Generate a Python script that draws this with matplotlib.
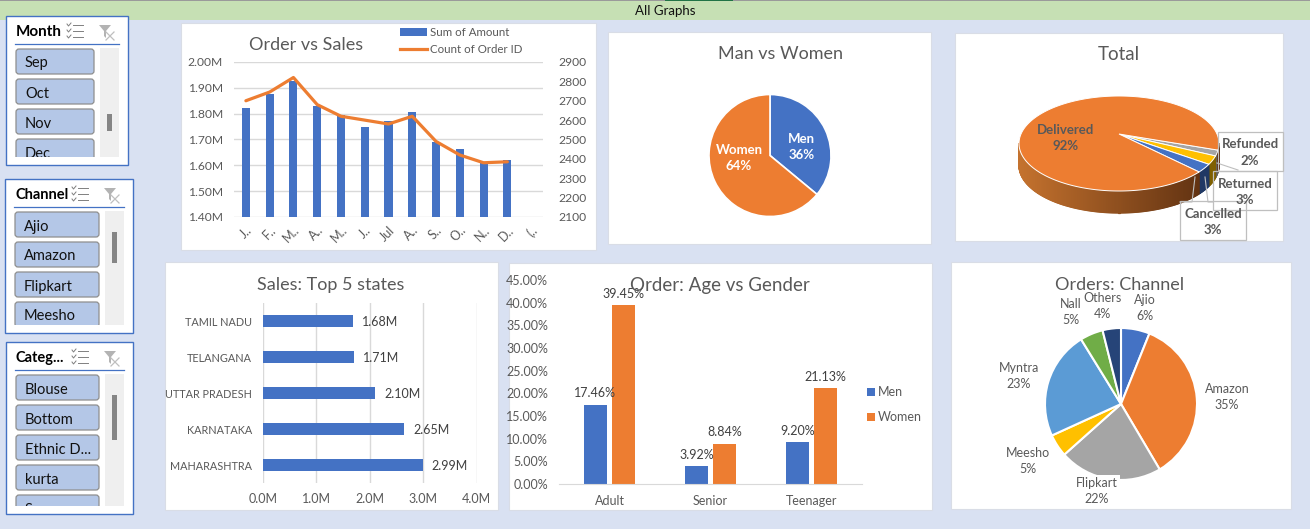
# excel style dashboard, all panels placed in pixel coordinates
import numpy as np
import matplotlib
matplotlib.use("Agg")
import matplotlib.pyplot as plt
from matplotlib.patches import Rectangle, FancyBboxPatch, Patch
from matplotlib.lines import Line2D
from matplotlib.colors import to_rgb

plt.rcParams['font.family'] = ['Lato', 'DejaVu Sans']

# data
months = ['J..', 'F..', 'M..', 'A..', 'M..', 'J..', 'Jul', 'A..', 'S..', 'O..', 'N..', 'D..', '(..']
amount = [1.82, 1.875, 1.925, 1.83, 1.795, 1.75, 1.77, 1.805, 1.69, 1.665, 1.61, 1.62, np.nan]
orders = [2700, 2745, 2820, 2680, 2620, 2600, 2580, 2620, 2490, 2420, 2380, 2385, np.nan]
amount_ticks = [1.4, 1.5, 1.6, 1.7, 1.8, 1.9, 2.0]
order_ticks = [2100, 2200, 2300, 2400, 2500, 2600, 2700, 2800, 2900]

gender_labels = ['Men', 'Women']
gender_share = [36, 64]

status_labels = ['Refunded', 'Returned', 'Cancelled', 'Delivered']
status_share = [2, 3, 3, 92]

states = ['MAHARASHTRA', 'KARNATAKA', 'UTTAR PRADESH', 'TELANGANA', 'TAMIL NADU']
state_sales = [2.99, 2.65, 2.10, 1.71, 1.68]

ages = ['Adult', 'Senior', 'Teenager']
age_men = [17.46, 3.92, 9.20]
age_women = [39.45, 8.84, 21.13]

channels = ['Ajio', 'Amazon', 'Flipkart', 'Meesho', 'Myntra', 'Nall', 'Others']
channel_share = [6.1, 35.4, 21.9, 4.8, 23.0, 4.9, 3.9]

month_items = ['Sep', 'Oct', 'Nov', 'Dec']
channel_items = ['Ajio', 'Amazon', 'Flipkart', 'Meesho']
category_items = ['Blouse', 'Bottom', 'Ethnic D...', 'kurta', 'Saree']

BLUE = '#4472C4'
ORANGE = '#ED7D31'
GRAY = '#A5A5A5'
YELLOW = '#FFC000'
TXT = '#595959'
GRID = '#D9D9D9'
W, H = 1310, 529

fig = plt.figure(figsize=(W / 100, H / 100), dpi=100, facecolor='#D9E1F2')


def px_axes(x0, y0, x1, y1, **kw):
    return fig.add_axes([x0 / W, 1 - y1 / H, (x1 - x0) / W, (y1 - y0) / H], **kw)


bg = px_axes(0, 0, W, H)
bg.set_xlim(0, W)
bg.set_ylim(H, 0)
bg.axis('off')

# top band
bg.add_patch(Rectangle((0, 0), W, 20, fc='#C6E0B4', ec='none'))
bg.add_patch(Rectangle((0, 0), W, 1, fc='#9A9A9A', ec='none'))
bg.add_patch(Rectangle((665, 0), 68, 1, fc='#217346', ec='none'))

# white chart panels
for x0, y0, x1, y1 in [(181, 23, 596, 250), (608, 32, 931, 244), (955, 33, 1283, 241),
                       (165, 262, 498, 510), (509, 263, 932, 510), (951, 262, 1291, 509)]:
    bg.add_patch(Rectangle((x0, y0), x1 - x0, y1 - y0, fc='white', ec='#D9DDE6', lw=0.8))


def slicer(box, title, items, thumb, title_w, bold_size=11):
    x0, y0, x1, y1 = box
    bg.add_patch(Rectangle((x0, y0), x1 - x0, y1 - y0, fc='white', ec=BLUE, lw=1.0))
    lx0, lx1 = x0 + 9, x1 - 9
    ly = y0 + 28
    bg.plot([lx0, lx1], [ly, ly], color=BLUE, lw=0.9)
    bg.text(lx0 + 1, y0 + 16, title, fontsize=bold_size, fontweight='bold', color='black', va='center')
    # checklist icon
    ix = lx0 + title_w
    for k in range(3):
        yy = y0 + 9 + k * 6
        bg.plot([ix + 6, ix + 16], [yy, yy], color='#808080', lw=0.7)
        bg.plot([ix, ix + 1.5, ix + 4], [yy - 1, yy + 1, yy - 2], color='#808080', lw=0.7)
    # clear filter icon
    fx = lx1 - 20
    bg.fill([fx, fx + 12, fx + 7, fx + 7, fx + 5, fx + 5], [y0 + 9, y0 + 9, y0 + 15, y0 + 22, y0 + 20, y0 + 15],
            color='#B3B3B3', lw=0)
    bg.plot([fx + 7, fx + 15], [y0 + 16, y0 + 24], color='#BFBFBF', lw=0.9)
    bg.plot([fx + 7, fx + 15], [y0 + 24, y0 + 16], color='#BFBFBF', lw=0.9)
    # list and scroll bar
    top = ly + 4
    bottom = y1 - 8
    clip = Rectangle((x0, top - 1), x1 - x0, bottom - top + 1, transform=bg.transData)
    for k, item in enumerate(items):
        by = top + k * 30
        p = FancyBboxPatch((lx0 + 1, by + 1), lx1 - lx0 - 26, 25, boxstyle='round,pad=0,rounding_size=3',
                           fc='#B4C7E7', ec='#8E8E8E', lw=0.9)
        bg.add_patch(p)
        p.set_clip_path(clip)
        t = bg.text(lx0 + 10, by + 15.5, item, fontsize=10.5, color='#111111', va='center', clip_on=True)
        t.set_clip_path(clip)
    bg.add_patch(Rectangle((lx1 - 19, top), 19, bottom - top, fc='#EFEFEF', ec='none'))
    bg.add_patch(Rectangle((lx1 - 12, thumb[0]), 5, thumb[1] - thumb[0], fc='#858585', ec='none'))


slicer((6, 16, 128, 165), 'Month', month_items, (114, 131), 52)
slicer((5, 179, 133, 333), 'Channel', channel_items, (232, 263), 58, 10.5)
slicer((6, 342, 133, 514), 'Categ...', category_items, (395, 440), 57, 10.5)

# order vs sales
ax1 = px_axes(234, 62, 543, 217)
ax1.bar(range(len(months)), amount, width=0.34, color=BLUE, bottom=0, zorder=2)
ax1.set_xlim(-0.5, 12.5)
ax1.set_ylim(1.4, 2.0)
ax1.set_yticks(amount_ticks)
ax1.set_yticklabels([f'{v:.2f}M' for v in amount_ticks])
ax1.set_xticks(range(len(months)))
ax1.set_xticklabels(months, rotation=45, ha='right', rotation_mode='anchor')
ax1.grid(axis='y', color=GRID, lw=1, zorder=0)
ax1.tick_params(length=0, labelsize=8.7, labelcolor=TXT, pad=8)
ax1.tick_params(axis='x', pad=5, labelsize=9)
ax1_r = ax1.twinx()
ax1_r.plot(range(len(months)), orders, color=ORANGE, lw=2.3, solid_capstyle='round')
ax1_r.set_ylim(2100, 2900)
ax1_r.set_yticks(order_ticks)
ax1_r.tick_params(length=0, labelsize=8.7, labelcolor=TXT, pad=11)
for a in (ax1, ax1_r):
    a.patch.set_alpha(0)
    for s in a.spines.values():
        s.set_visible(False)
fig.legend(handles=[Patch(fc=BLUE, label='Sum of Amount'), Line2D([], [], color=ORANGE, lw=2.3, label='Count of Order ID')],
           loc='upper left', bbox_to_anchor=(400 / W, 1 - 27.5 / H), frameon=False, fontsize=8.3, labelcolor=TXT,
           handlelength=2.3, handletextpad=0.3, labelspacing=0.5, borderpad=0, borderaxespad=0)

# man vs women
ax2 = px_axes(770 - 61, 155.5 - 61, 770 + 61, 155.5 + 61)
ax2.pie(gender_share, colors=[BLUE, ORANGE], startangle=90, counterclock=False, radius=1,
        wedgeprops=dict(edgecolor='white', linewidth=1.2))
ax2.set_xlim(-1, 1)
ax2.set_ylim(-1, 1)

# total, tilted pie with a side wall
cx, cy, rx, ry, depth = 1119, 143.5, 100, 47.5, 22
apex = (1119, 134)
start = 8.0
top_cols = ['#A5A5A5', YELLOW, BLUE, ORANGE]
side_cols = ['#636363', '#7F6000', '#203864', None]
left_c, right_c = np.array(to_rgb('#C4722E')), np.array(to_rgb('#582C0F'))
t0 = start
for share, tc, sc, name in zip(status_share, top_cols, side_cols, status_labels):
    t1 = t0 + share * 3.6
    tt = np.radians(np.linspace(t0, t1, max(int(share * 6), 6)))
    xs = cx + rx * np.cos(tt)
    ys = cy + ry * np.sin(tt)
    for i in range(len(tt) - 1):
        if np.sin(tt[i]) < -0.01 or np.sin(tt[i + 1]) < -0.01:
            continue
        if sc is None:
            f = (xs[i] - (cx - rx)) / (2 * rx)
            col = left_c + (right_c - left_c) * f
        else:
            col = sc
        bg.fill([xs[i], xs[i + 1], xs[i + 1], xs[i]], [ys[i], ys[i + 1], ys[i + 1] + depth, ys[i] + depth],
                fc=col, ec=col, lw=0.9, zorder=2)
    bg.fill(np.r_[apex[0], xs], np.r_[apex[1], ys], fc=tc, ec='white', lw=0.7, zorder=3)
    t0 = t1

# label boxes of the tilted pie
for x0, y0, x1, y1 in [(1218, 132, 1283, 171), (1213, 171, 1277, 210), (1180, 201, 1246, 240)]:
    bg.add_patch(Rectangle((x0, y0), x1 - x0, y1 - y0, fc='none', ec='#BFBFBF', lw=0.9, zorder=4))
for xs, ys in [([1217, 1238], [163, 170]), ([1205, 1208, 1213], [177, 202, 202]), ([1195, 1192, 1180], [177, 202, 202])]:
    bg.plot(xs, ys, color='#BFBFBF', lw=0.8, zorder=4)

# top 5 states
ax4 = px_axes(263, 303, 476.5, 483)
ax4.barh(range(len(states)), state_sales, height=0.36, color=BLUE, zorder=2)
ax4.set_xlim(0, 4)
ax4.set_ylim(-0.5, 4.5)
ax4.set_yticks(range(len(states)))
ax4.set_yticklabels(states)
ax4.set_xticks([0, 1, 2, 3, 4])
ax4.set_xticklabels([f'{v:.1f}M' for v in [0, 1, 2, 3, 4]])
ax4.grid(axis='x', color=GRID, lw=1, zorder=0)
ax4.tick_params(length=0, labelsize=9, labelcolor=TXT)
ax4.tick_params(axis='y', pad=8, labelsize=7.8)
ax4.tick_params(axis='x', pad=7.5)
for s in ax4.spines.values():
    s.set_visible(False)
for i, v in enumerate(state_sales):
    ax4.annotate(f'{v:.2f}M', (v, i - 0.03), xytext=(6.5, 0), textcoords='offset points', va='center', fontsize=9, color='#404040')

# age vs gender
ax5 = px_axes(559, 280, 862, 484)
pos = np.arange(len(ages))
ax5.bar(pos - 0.14, age_men, width=0.225, color=BLUE, zorder=2)
ax5.bar(pos + 0.14, age_women, width=0.225, color=ORANGE, zorder=2)
ax5.set_xlim(-0.5, 2.5)
ax5.set_ylim(0, 45)
ax5.set_yticks(np.arange(0, 46, 5))
ax5.set_yticklabels([f'{v:.2f}%' for v in np.arange(0, 46, 5)])
ax5.set_xticks(pos)
ax5.set_xticklabels(ages)
ax5.tick_params(length=0, labelsize=9, labelcolor=TXT)
ax5.tick_params(axis='y', pad=8)
ax5.tick_params(axis='x', pad=8)
for name, s in ax5.spines.items():
    s.set_visible(name == 'bottom')
ax5.spines['bottom'].set_color(GRID)
ax5.patch.set_alpha(0)
for i in pos:
    ax5.annotate(f'{age_men[i]:.2f}%', (i - 0.14, age_men[i]), xytext=(0, 5.5), textcoords='offset points',
                 ha='center', fontsize=9, color='#404040')
    ax5.annotate(f'{age_women[i]:.2f}%', (i + 0.14, age_women[i]), xytext=(0, 5.5), textcoords='offset points',
                 ha='center', fontsize=9, color='#404040')
fig.legend(handles=[Patch(fc=BLUE, label='Men'), Patch(fc=ORANGE, label='Women')], loc='upper left',
           bbox_to_anchor=(867 / W, 1 - 386.5 / H), frameon=False, fontsize=9, labelcolor=TXT, handlelength=0.6,
           handleheight=0.6, handletextpad=0.3, labelspacing=1.0, borderpad=0, borderaxespad=0)

# orders by channel
ax6 = px_axes(1121 - 76, 404 - 76, 1121 + 76, 404 + 76)
ax6.pie(channel_share, colors=[BLUE, ORANGE, GRAY, YELLOW, '#5B9BD5', '#70AD47', '#264478'], startangle=90,
        counterclock=False, radius=1, wedgeprops=dict(edgecolor='white', linewidth=1.5))
ax6.set_xlim(-1, 1)
ax6.set_ylim(-1, 1)

# text layer above every chart
top = px_axes(0, 0, W, H)
top.set_xlim(0, W)
top.set_ylim(H, 0)
top.axis('off')
top.patch.set_alpha(0)


def label(x, y, s, size=9, color=TXT, weight='normal', spacing=1.4, **kw):
    top.text(x, y, s, fontsize=size, color=color, fontweight=weight, ha='center', va='center', linespacing=spacing, **kw)


label(665, 11, 'All Graphs', 9.5, '#111111')
label(306.5, 44.5, 'Order vs Sales', 13)
label(781, 54, 'Man vs Women', 13)
label(1119, 55, 'Total', 13.5)
label(331, 285, 'Sales: Top 5 states', 13)
label(720, 286, 'Order: Age vs Gender', 13.5)
label(1120, 284.5, 'Orders: Channel', 13)

label(801.5, 147, f'{gender_labels[0]}\n{gender_share[0]}%', 9.5, 'white', 'bold')
label(739, 158, f'{gender_labels[1]}\n{gender_share[1]}%', 9.5, 'white', 'bold')

status_pos = [(1250, 152.5), (1245, 192), (1213, 222), (1066, 138)]
for (x, y), name, v in zip(status_pos, status_labels, status_share):
    label(x, y, f'{name}\n{v}%', 9.5, TXT, 'bold', spacing=1.5)

channel_pos = [(1145, 307.5), (1227, 397), (1097, 491), (1028, 461), (1019, 376), (1071, 312), (1102, 306)]
for (x, y), name, v in zip(channel_pos, channels, channel_share):
    kw = {}
    if name == 'Flipkart':
        kw['bbox'] = dict(fc='white', ec='none', pad=1.5)
    label(x, y, f'{name}\n{v:.0f}%', 9, TXT, **kw)

fig.savefig('out.png', dpi=100, facecolor=fig.get_facecolor())
